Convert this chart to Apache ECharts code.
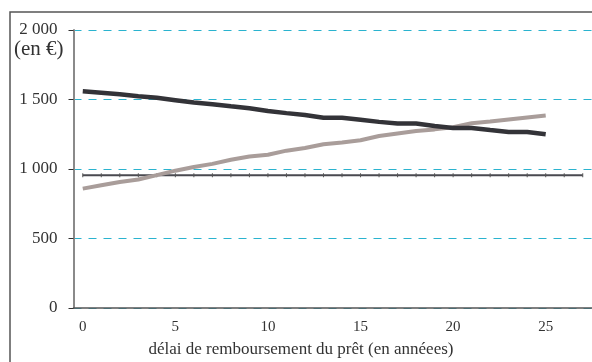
<!DOCTYPE html>
<html>
<head>
<meta charset="utf-8">
<script src="https://cdn.jsdelivr.net/npm/echarts@6/dist/echarts.min.js"></script>
<style>html,body{margin:0;padding:0;background:#fff;}#c{width:592px;height:362px;}</style>
</head>
<body>
<div id="c"></div>
<script>
var years = ['0','1','2','3','4','5','6','7','8','9','10','11','12','13','14','15','16','17','18','19','20','21','22','23','24','25','26','27'];
var seriesDark = [1559,1549,1537,1524,1512,1495,1478,1466,1451,1437,1417,1402,1388,1368,1368,1354,1339,1327,1327,1310,1295,1295,1280,1266,1266,1250];
var seriesGray = [859,883,907,924,956,988,1015,1037,1066,1090,1102,1132,1151,1178,1190,1207,1237,1256,1273,1285,1300,1329,1341,1356,1371,1385];
var seriesFlat = [955,955,955,955,955,955,955,955,955,955,955,955,955,955,955,955,955,955,955,955,955,955,955,955,955,955,955,955];
var yTicks = [0,500,1000,1500,2000];
var yLabels = {'0':'0','500':'500','1000':'1 000','1500':'1 500','2000':'2 000'};
var unitLabel = '(en €)';
var xTitle = 'délai de remboursement du prêt (en annéees)';

var chart = echarts.init(document.getElementById('c'));
var serif = '"Liberation Serif", "DejaVu Serif", serif';
chart.setOption({
  animation: false,
  backgroundColor: '#fff',
  grid: {left: 73.5, top: 30, width: 524, height: 278},
  xAxis: {
    type: 'category',
    data: years,
    boundaryGap: true,
    axisLine: {lineStyle: {color: '#555', width: 1.5}},
    axisTick: {interval: 4, length: 6, lineStyle: {color: '#888', width: 1}},
    axisLabel: {interval: 4, margin: 12, fontFamily: serif, fontSize: 15, color: '#333'},
    splitLine: {show: false}
  },
  yAxis: {
    type: 'value',
    min: yTicks[0],
    max: yTicks[yTicks.length - 1],
    interval: 500,
    axisLine: {show: true, lineStyle: {color: '#8a8a8a', width: 2}},
    axisTick: {show: true, length: 5, lineStyle: {color: '#333', width: 1}},
    axisLabel: {margin: 16, fontFamily: serif, fontSize: 17, color: '#333',
      formatter: function (v) { return yLabels[String(v)]; }},
    splitLine: {show: true, lineStyle: {color: '#2ab3cf', width: 1, type: [8, 7]}}
  },
  series: [
    {type: 'line', data: seriesFlat, symbol: 'rect', symbolSize: [1, 4], showSymbol: true,
      itemStyle: {color: '#555'}, lineStyle: {color: '#4a4a50', width: 2}, z: 2},
    {type: 'line', data: seriesGray, symbol: 'none', lineStyle: {color: '#a99d9a', width: 4}, z: 3},
    {type: 'line', data: seriesDark, symbol: 'none', lineStyle: {color: '#333338', width: 4.5}, z: 4}
  ],
  graphic: [
    {type: 'rect', shape: {x: 10, y: 12, width: 620, height: 400}, style: {fill: 'none', stroke: '#555', lineWidth: 1.5}, silent: true},
    {type: 'text', x: 14, y: 49, style: {text: unitLabel, font: '21px ' + serif, fill: '#333', verticalAlign: 'middle', align: 'left'}},
    {type: 'text', x: 301, y: 350, style: {text: xTitle, font: '17px ' + serif, fill: '#333', verticalAlign: 'middle', align: 'center'}}
  ]
});
</script>
</body>
</html>
